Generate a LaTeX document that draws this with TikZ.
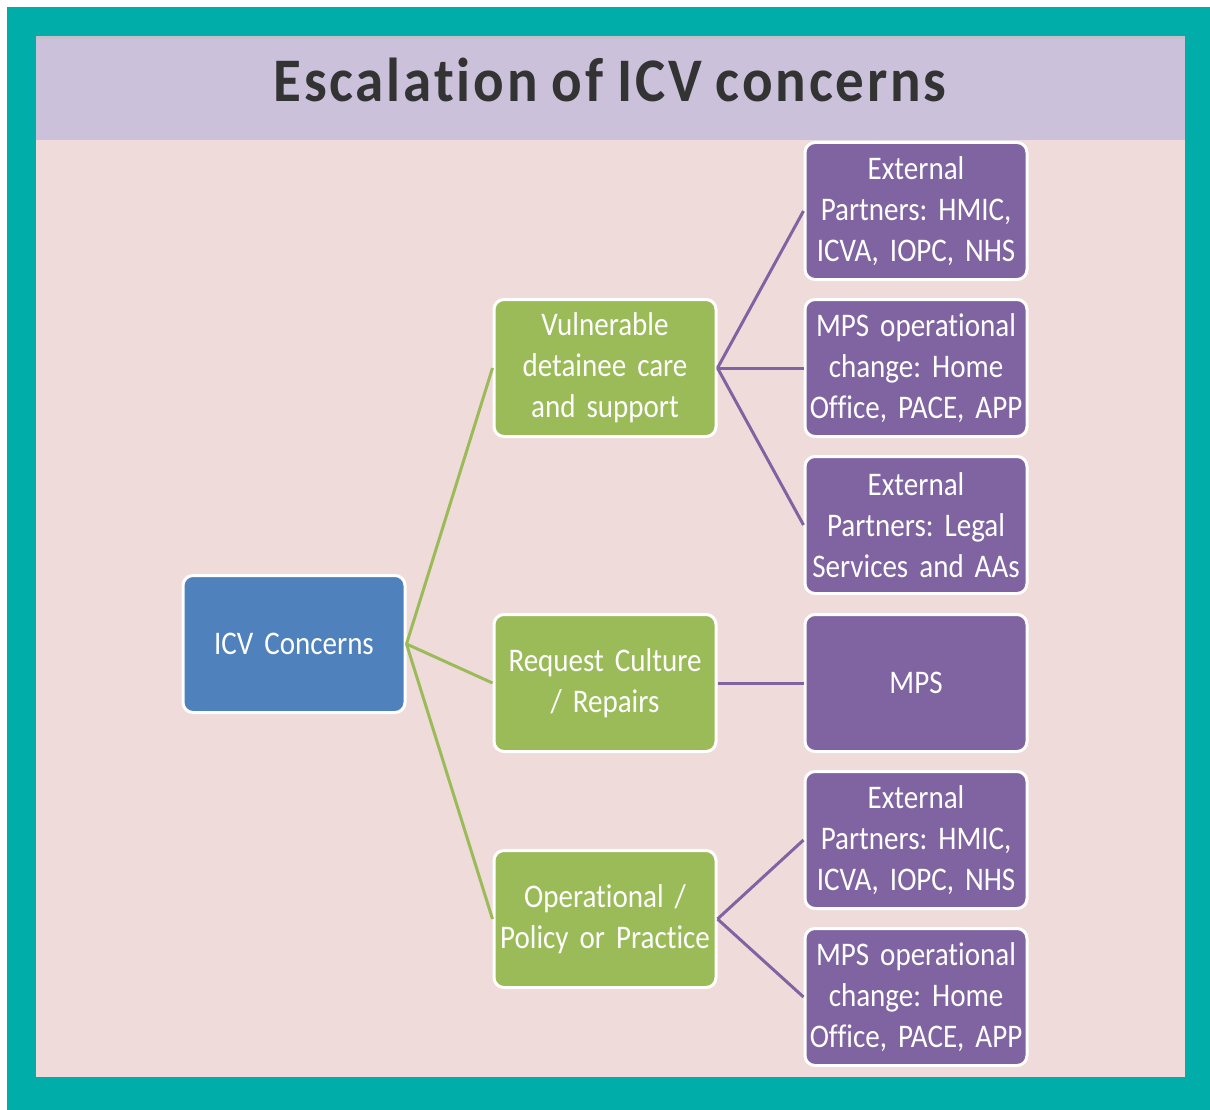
\documentclass[tikz,border=0pt]{standalone}
\usepackage{fontspec}
\setmainfont{Carlito}[FakeStretch=0.88,Ligatures=NoCommon]
\newfontfamily\titlefont{Carlito}[FakeStretch=0.92,LetterSpace=4.5,Ligatures=NoCommon]
\newcommand\myboxfont{\fontsize{33}{41}\selectfont\frenchspacing}
\newcommand\mytitlefont{\titlefont\bfseries\fontsize{62}{62}\selectfont\spaceskip 14pt\relax}
\definecolor{teal1}{HTML}{00ADA8}
\definecolor{lav}{HTML}{CBC1DB}
\definecolor{pinkbg}{HTML}{F0DBDB}
\definecolor{bluebox}{HTML}{4F81BD}
\definecolor{greenbox}{HTML}{9BBB59}
\definecolor{purplebox}{HTML}{8064A2}
\definecolor{titlegray}{HTML}{333333}
\tikzset{
  box/.style={draw=white, line width=3pt, rounded corners=10pt, minimum width=222pt,
    minimum height=137pt, inner sep=0pt, text=white, align=center, text width=218pt,
    font=\myboxfont},
  bluenode/.style={box, fill=bluebox},
  greennode/.style={box, fill=greenbox},
  purplenode/.style={box, fill=purplebox},
  gline/.style={draw=greenbox, line width=3pt},
  pline/.style={draw=purplebox, line width=3pt},
}
\begin{document}
\begin{tikzpicture}[x=1pt,y=-1pt]
\useasboundingbox (0,0) rectangle (1210,1110);
\fill[white] (0,0) rectangle (1210,1110);
\fill[teal1] (7,7) rectangle (1210,1110);
\fill[pinkbg] (36,36) rectangle (1185,1077);
\fill[lav] (36,36) rectangle (1185,140);
\fill[black!25, opacity=0.5] (36,36) rectangle (1185,39);
\node[text=titlegray, font=\mytitlefont] (title) at (610,80) {Escalation of ICV concerns};

\node[bluenode] (icv) at (294,644) {ICV Concerns};

\node[greennode] (vul) at (605,368) {Vulnerable\\detainee care\\and support};
\node[greennode] (req) at (605,683) {Request Culture\\/ Repairs};
\node[greennode] (ops) at (605,919) {Operational /\\Policy or Practice};

\node[purplenode] (p1) at (916,211) {External\\Partners: HMIC,\\ICVA, IOPC, NHS};
\node[purplenode] (p2) at (916,368) {MPS operational\\change: Home\\Office, PACE, APP};
\node[purplenode] (p3) at (916,525) {External\\Partners: Legal\\Services and AAs};
\node[purplenode] (p4) at (916,683) {MPS};
\node[purplenode] (p5) at (916,840) {External\\Partners: HMIC,\\ICVA, IOPC, NHS};
\node[purplenode] (p6) at (916,997) {MPS operational\\change: Home\\Office, PACE, APP};

\draw[gline] (icv.east) -- (vul.west);
\draw[gline] (icv.east) -- (req.west);
\draw[gline] (icv.east) -- (ops.west);

\draw[pline] (vul.east) -- (p1.west);
\draw[pline] (vul.east) -- (p2.west);
\draw[pline] (vul.east) -- (p3.west);
\draw[pline] (req.east) -- (p4.west);
\draw[pline] (ops.east) -- (p5.west);
\draw[pline] (ops.east) -- (p6.west);
\end{tikzpicture}
\end{document}
